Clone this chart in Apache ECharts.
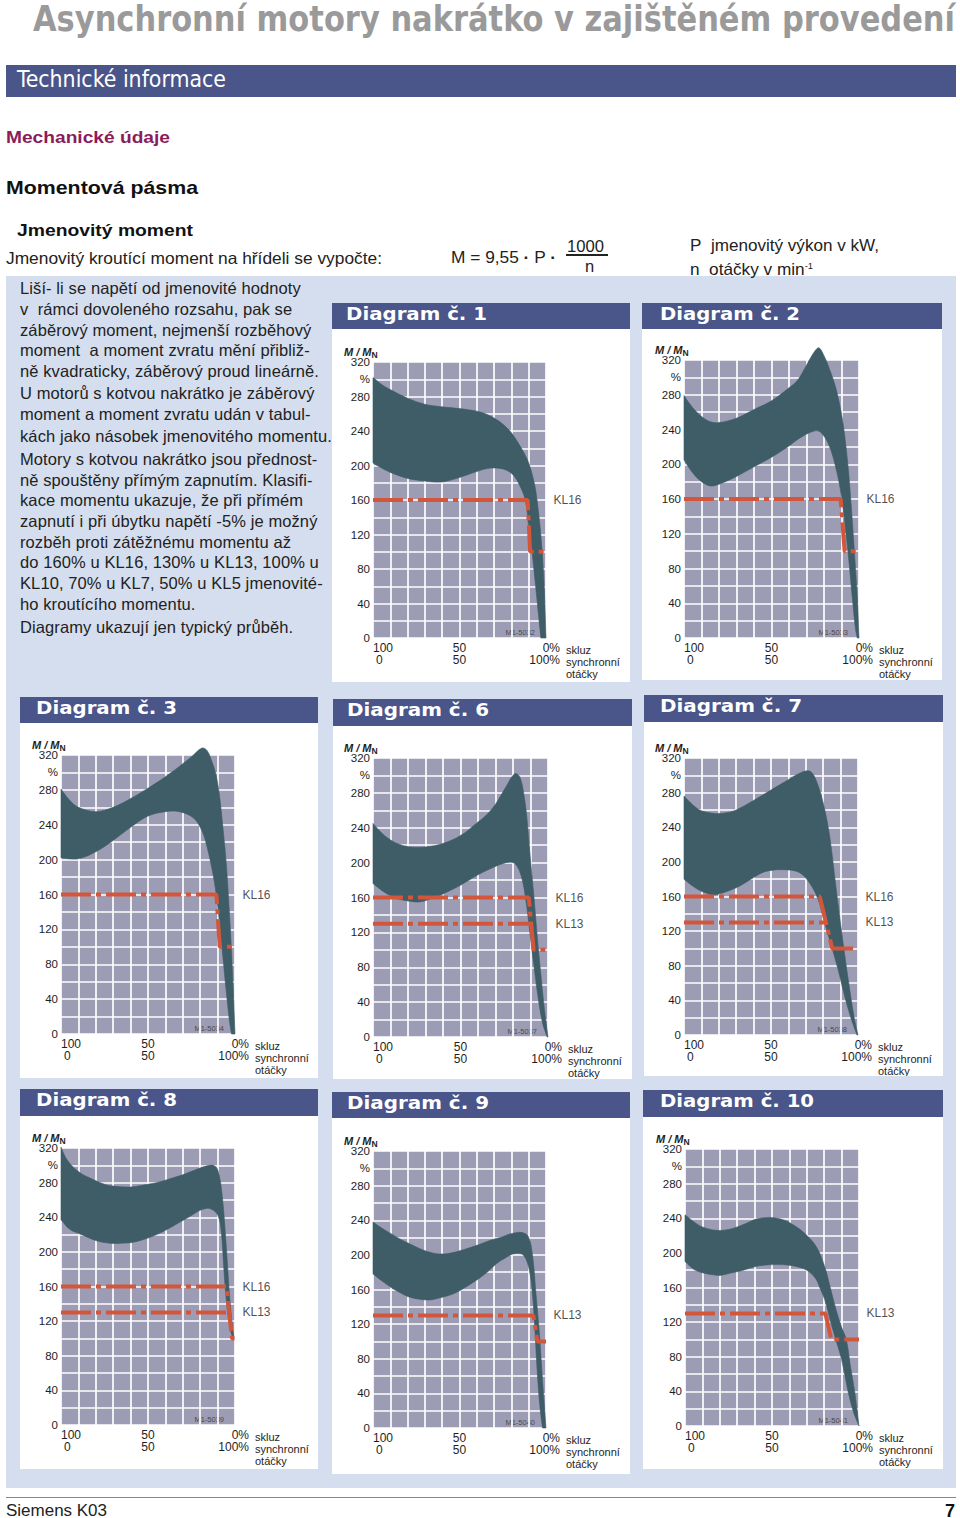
<!DOCTYPE html>
<html><head><meta charset="utf-8">
<script src="https://cdn.jsdelivr.net/npm/echarts@6/dist/echarts.min.js"></script>
<style>
html,body{margin:0;padding:0;}
body{width:960px;height:1518px;position:relative;background:#fff;overflow:hidden;font-family:"Liberation Sans",Arial,sans-serif;color:#1f1f1f;}
.abs{position:absolute;white-space:nowrap;transform-origin:0 50%;}
.p{font-size:16.5px;line-height:16.5px;left:20px;color:#222;white-space:pre;letter-spacing:0.1px;}
</style></head><body>
<div class="abs" style="left:6px;top:276px;width:950px;height:1212px;background:#d4deee"></div>
<div class="abs" data-w="922" style="left:33px;top:1px;font:bold 36px/36px 'Liberation Sans Narrow','DejaVu Sans Condensed',sans-serif;color:#9a9a9a">Asynchronní motory nakrátko v zajištěném provedení</div>
<div class="abs" style="left:6px;top:65px;width:950px;height:32px;background:#4a5589"></div>
<div class="abs" data-w="209" style="left:17px;top:68px;font:23px/23px 'Liberation Sans Narrow','DejaVu Sans Condensed',sans-serif;color:#fff">Technické informace</div>
<div class="abs" data-w="164" style="left:6px;top:129px;font:bold 17px/17px 'Liberation Sans',sans-serif;color:#8b1c5b">Mechanické údaje</div>
<div class="abs" data-w="192" style="left:6px;top:178px;font:bold 19px/19px 'Liberation Sans',sans-serif;color:#111">Momentová pásma</div>
<div class="abs" data-w="176" style="left:17px;top:222px;font:bold 17px/17px 'Liberation Sans',sans-serif;color:#111">Jmenovitý moment</div>
<div class="abs" data-w="376" style="left:6px;top:250px;font:16.5px/16.5px 'Liberation Sans',sans-serif;color:#222">Jmenovitý kroutící moment na hřídeli se vypočte:</div>
<div class="abs" data-w="105" style="left:451px;top:249px;font:16.5px/16.5px 'Liberation Sans',sans-serif;color:#222">M = 9,55 <b>·</b> P <b>·</b></div>
<div class="abs" data-w="37" style="left:567px;top:238px;font:16.5px/16.5px 'Liberation Sans',sans-serif;color:#222">1000</div>
<div class="abs" style="left:566px;top:254px;width:42px;height:1.5px;background:#222"></div>
<div class="abs" style="left:585px;top:258px;font:16.5px/16.5px 'Liberation Sans',sans-serif;color:#222">n</div>
<div class="abs" data-w="189" style="left:690px;top:237px;font:16.5px/16.5px 'Liberation Sans',sans-serif;color:#222">P&nbsp; jmenovitý výkon v kW,</div>
<div class="abs" data-w="123" style="left:690px;top:258px;font:16.5px/16.5px 'Liberation Sans',sans-serif;color:#222">n&nbsp; otáčky v min<sup style="font-size:9px;vertical-align:6px">-1</sup></div>
<div class="abs" style="left:6px;top:1497px;width:950px;height:1px;background:#888"></div>
<div class="abs" data-w="101" style="left:6px;top:1503px;font:16px/16px 'Liberation Sans',sans-serif;color:#222">Siemens K03</div>
<div class="abs" style="left:945px;top:1502px;font:bold 18px/18px 'Liberation Sans',sans-serif;color:#111">7</div>
<script>
// ---------- text / tick labels ----------
const paragraphLines = [
  'Liší- li se napětí od jmenovité hodnoty',
  'v  rámci dovoleného rozsahu, pak se',
  'záběrový moment, nejmenší rozběhový',
  'moment  a moment zvratu mění přibliž-',
  'ně kvadraticky, záběrový proud lineárně.',
  'U motorů s kotvou nakrátko je záběrový',
  'moment a moment zvratu udán v tabul-',
  'kách jako násobek jmenovitého momentu.',
  'Motory s kotvou nakrátko jsou přednost-',
  'ně spouštěny přímým zapnutím. Klasifi-',
  'kace momentu ukazuje, že při přímém',
  'zapnutí i při úbytku napětí -5% je možný',
  'rozběh proti zátěžnému momentu až',
  'do 160% u KL16, 130% u KL13, 100% u',
  'KL10, 70% u KL7, 50% u KL5 jmenovité-',
  'ho kroutícího momentu.',
  'Diagramy ukazují jen typický průběh.'
];
const xTickValues = [0, 50, 100];
const xSlipLabels = ['100', '50', '0%'];
const xSyncLabels = ['0', '50', '100%'];
const xAxisNameLines = ['skluz', 'synchronní', 'otáčky'];
const yLabelValues = [0, 40, 80, 120, 160, 200, 240, 280, 320];
const yUnitValue = 300;
const yUnitLabel = '%';

// ---------- data: [speed % of synchronous, M/MN %] ----------
const d1Upper = [[0,302],[5,294],[10,288],[20,278],[30,271],[40,268],[50,266],[60,263],[65,260],[70,255],[75,248],[80,238],[84,226],[88,212],[90,203],[92,190],[94,172],[96,140],[97,120],[98,95],[99,58],[100,0]];
const d1Lower = [[0,203],[5,197],[10,192],[20,185],[30,182],[40,181],[50,186],[60,193],[68,197],[75,196],[80,191],[84,180],[88,160],[90,128],[92,98],[94,60],[96,20],[97,0]];
const d1KL16 = [[0,160],[89.4,160],[90.8,100],[100,100]];

const d2Upper = [[0,279],[5,265],[10,255],[15,249],[20,248],[30,253],[40,263],[50,273],[60,288],[65,297],[70,314],[74,328],[77,334],[80,325],[84,305],[87,286],[90,258],[92,230],[94,192],[96,140],[98,80],[99,48],[100,0]];
const d2Lower = [[0,205],[5,190],[10,180],[15,175],[20,177],[30,186],[40,197],[50,208],[60,221],[66,230],[74,238],[78,237],[83,221],[87,194],[90,163],[92,130],[94,93],[96,50],[98,10],[99,0]];
const d2KL16 = [[0,160],[89.5,160],[91.8,100],[100,100]];

const d3Upper = [[0,281],[5,268],[10,260],[20,255],[30,260],[40,270],[50,282],[60,295],[70,310],[75,318],[81,328],[84,325],[87,311],[89,298],[91,275],[93,238],[95,195],[97,132],[98,95],[99,50],[100,0]];
const d3Lower = [[0,202],[10,201],[20,209],[30,222],[40,237],[50,250],[60,255],[68,255],[76,248],[81,233],[84,214],[87,187],[89,163],[91,130],[93,89],[95,48],[97,12],[98,0]];
const d3KL16 = [[0,160],[89.3,160],[91.2,100],[100,100]];

const d6Upper = [[0,245],[5,234],[10,226],[15,221],[21,218],[30,218],[40,222],[50,231],[59,245],[65,255],[70,267],[76,287],[81,302],[84,298],[86.7,272],[88,250],[89.5,214],[92,160],[94,112],[96,70],[98,31],[100,0]];
const d6Lower = [[0,176],[5,168],[10,162],[15,158],[20,156],[27,155],[35,160],[40,164],[50,174],[60,186],[67,193],[76,200],[81,199],[84.8,184],[87.6,153],[89.5,122],[91.8,84],[94.3,46],[97,15],[99.5,0]];
const d6KL16 = [[0,160],[89,160],[91.8,100],[100,100]];
const d6KL13 = [[0,130],[90.4,130]];

const d7Upper = [[0,276],[5,266],[10,259],[18,256],[25,257],[30,260],[40,271],[50,283],[55,289],[60,295],[65,301],[70,305],[73,304],[76,294],[80,268],[83.7,230],[87.5,168],[91.4,107],[95.2,53],[98,18],[100,0]];
const d7Lower = [[0,180],[5,172],[10,166],[17,162],[25,166],[32,172],[40,182],[47,189],[57,191],[66,188],[72,176],[77,157],[80.8,130],[84.7,103],[88.5,76],[92.3,45],[96.2,18],[99.4,0]];
const d7KL16 = [[0,160],[78,160],[85.2,100],[100,100]];
const d7KL13 = [[0,130],[81.6,130]];

const d8Upper = [[0,321],[3,308],[7,298],[12,290],[17,285],[25,278],[30,276],[40,275],[50,278],[57,281],[65,286],[70,289],[75,293],[81.6,298],[87.4,300],[90.2,294],[92.7,264],[95,206],[97,146],[99,106],[99.5,100]];
const d8Lower = [[0,237],[5,226],[13,219],[20,213],[28,210],[35,210],[41.5,211],[50,216],[55,220],[62,227],[68,234],[75,242],[80,248],[85.5,250],[90.2,242],[92.2,221],[93.5,183],[95,144],[97,113],[98.5,102],[99.5,100]];
const d8KL16 = [[0,160],[95,160],[98.3,100],[100,100]];
const d8KL13 = [[0,130],[96.6,130]];

const d9Upper = [[0,238],[5,231],[10,225],[15,219],[20,214],[29,205.5],[35,202],[41,201],[47,203],[54,207],[60,211],[68,217],[75,221],[79,224],[85.6,226],[89.8,221],[92.3,198],[94.2,155],[96.2,109],[98,55],[100,0]];
const d9Lower = [[0,178],[5,170],[10,163],[15,157],[20,152],[26,149],[33,148],[40,151],[46.5,155],[53,162],[60,171],[66,180],[71.5,190],[77,197],[82,201.6],[87,199.7],[90.4,182],[92.3,151.5],[93.7,109],[95,63],[96.5,24],[98,0]];
const d9KL13 = [[0,130],[92.7,130],[95,100],[100,100]];

const d10Upper = [[0,244],[5,236],[10,230],[18,226],[25,227],[30,230],[35,234],[41,239],[48.8,241],[55,239],[60,235],[68,224],[75.5,207],[80.3,184],[83.5,160],[87,133],[90,114],[92.7,100],[95,70],[97.5,40],[100,0]];
const d10Lower = [[0,190],[5,181],[10,177],[15,175],[20,174],[27,177],[33.5,180],[40,184],[46.8,186],[58.3,186],[67.9,182],[72,177],[75.5,169],[77.4,160],[80.3,146],[84,118],[86.6,100],[90,77],[93.7,40],[97,15],[100,0]];
const d10KL13 = [[0,130],[80.7,130],[84.1,100],[100,100]];

const diagrams = [
  {no:'1', code:'M1-5032', upper:d1Upper, lower:d1Lower, kl:[{name:'KL16', pts:d1KL16}]},
  {no:'2', code:'M1-5033', upper:d2Upper, lower:d2Lower, kl:[{name:'KL16', pts:d2KL16}]},
  {no:'3', code:'M1-5034', upper:d3Upper, lower:d3Lower, kl:[{name:'KL16', pts:d3KL16}]},
  {no:'6', code:'M1-5037', upper:d6Upper, lower:d6Lower, kl:[{name:'KL16', pts:d6KL16},{name:'KL13', pts:d6KL13}]},
  {no:'7', code:'M1-5038', upper:d7Upper, lower:d7Lower, kl:[{name:'KL16', pts:d7KL16},{name:'KL13', pts:d7KL13}]},
  {no:'8', code:'M1-5039', upper:d8Upper, lower:d8Lower, kl:[{name:'KL16', pts:d8KL16},{name:'KL13', pts:d8KL13}]},
  {no:'9', code:'M1-5040', upper:d9Upper, lower:d9Lower, kl:[{name:'KL13', pts:d9KL13}]},
  {no:'10', code:'M1-5041', upper:d10Upper, lower:d10Lower, kl:[{name:'KL13', pts:d10KL13}]}
];

// ---------- layout (page pixels) ----------
const layout = {
  '1':  {hx:332, hy:303,  w:298, hh:26, bh:353, pl:373, pt:362,  pw:173, ph:276, tx:14, tw:141},
  '2':  {hx:642, hy:303,  w:300, hh:26, bh:351, pl:684, pt:360,  pw:175, ph:278, tx:18, tw:140},
  '3':  {hx:20,  hy:697,  w:298, hh:26, bh:355, pl:61,  pt:755,  pw:174, ph:279, tx:16, tw:141},
  '6':  {hx:333, hy:699,  w:299, hh:27, bh:353, pl:373, pt:758,  pw:175, ph:279, tx:14, tw:142},
  '7':  {hx:644, hy:695,  w:299, hh:27, bh:354, pl:684, pt:758,  pw:174, ph:277, tx:16, tw:142},
  '8':  {hx:20,  hy:1089, w:298, hh:27, bh:353, pl:61,  pt:1148, pw:174, ph:277, tx:16, tw:141},
  '9':  {hx:332, hy:1092, w:298, hh:26, bh:356, pl:373, pt:1151, pw:173, ph:277, tx:15, tw:142},
  '10': {hx:643, hy:1090, w:300, hh:27, bh:352, pl:685, pt:1149, pw:174, ph:277, tx:17, tw:154}
};
const paraCenters = [288,309,330,350,371,393,414,436,459,480,500,521,542,562,583,604,627];

const BAND = '#3e5d67', RED = '#d4563a', PLOT_BG = '#9d9cb5', HDR = '#4a5589', TXT = '#1e1e1e';
const FF = "'Liberation Sans', Arial, sans-serif";

function el(html, style, attrs) {
  const d = document.createElement('div');
  d.className = 'abs';
  d.innerHTML = html;
  Object.assign(d.style, style);
  if (attrs) for (const k in attrs) d.setAttribute(k, attrs[k]);
  document.body.appendChild(d);
  return d;
}

paragraphLines.forEach((t, i) => {
  const d = el('', {top: (paraCenters[i] - 7.7) + 'px'});
  d.textContent = t;
  d.classList.add('p');
});

function buildOption(d, L) {
  const boxTop = L.hy + L.hh;
  const gl = L.pl - L.hx, gt = L.pt - boxTop;
  const series = [{
    type: 'custom', coordinateSystem: 'cartesian2d', clip: false, silent: true, z: 2,
    data: d.upper.concat(d.lower.slice().reverse()),
    encode: {x: 0, y: 1},
    renderItem: function (params, api) {
      if (params.dataIndex !== 0) return null;
      const up = d.upper.map(p => api.coord(p));
      const lo = d.lower.map(p => api.coord(p)).reverse();
      const pts = [up[0]].concat(up, [up[up.length - 1]], [lo[0]], lo, [lo[lo.length - 1]]);
      return {type: 'polygon', shape: {points: pts, smooth: 0.35},
        style: {fill: BAND, stroke: BAND, lineWidth: 0.6}};
    }
  }];
  d.kl.forEach(k => {
    series.push({type: 'line', data: k.pts, symbol: 'none', clip: false, silent: true, z: 4,
      lineStyle: {color: RED, width: 4, type: [30, 5, 5, 5], cap: 'butt'}});
    series.push({type: 'scatter', data: [[100, k.pts[0][1]]], symbolSize: 1, silent: true, z: 5,
      itemStyle: {color: 'rgba(0,0,0,0)'},
      label: {show: true, position: 'right', distance: 7, formatter: k.name, fontSize: 12,
        color: TXT, fontFamily: FF}});
  });
  return {
    animation: false,
    grid: {left: gl, top: gt, width: L.pw, height: L.ph, show: true, backgroundColor: PLOT_BG,
      borderWidth: 0, containLabel: false, outerBoundsMode: 'none'},
    title: {text: '{m|M / M}{n|N}', left: gl - 29, top: gt - 17, padding: 0,
      textStyle: {rich: {
        m: {fontStyle: 'italic', fontSize: 11, color: TXT, fontFamily: FF},
        n: {fontSize: 8.5, color: TXT, fontFamily: FF, padding: [5, 0, 0, 0]}}}},
    xAxis: {
      type: 'value', min: 0, max: 100, interval: 10,
      axisLine: {show: false}, axisTick: {show: false},
      splitLine: {show: true, lineStyle: {color: '#ffffff', width: 1.7}},
      axisLabel: {
        margin: 4, fontSize: 12, lineHeight: 12, color: TXT, fontFamily: FF,
        showMinLabel: true, showMaxLabel: true, hideOverlap: false,
        alignMinLabel: 'left', alignMaxLabel: 'center',
        formatter: function (v) {
          const i = xTickValues.indexOf(v);
          if (i < 0) return '';
          if (i === 0) return '{a|' + xSlipLabels[i] + '}\n{b|' + xSyncLabels[i] + '}';
          if (i === xTickValues.length - 1) return '{r|' + xSlipLabels[i] + '}\n{r|' + xSyncLabels[i] + '}';
          return xSlipLabels[i] + '\n' + xSyncLabels[i];
        },
        rich: {
          a: {fontSize: 12, lineHeight: 12, color: TXT, fontFamily: FF},
          b: {fontSize: 12, lineHeight: 12, color: TXT, fontFamily: FF, padding: [0, 0, 0, 3]},
          r: {fontSize: 12, lineHeight: 12, color: TXT, fontFamily: FF, width: 28, align: 'right'}
        }
      },
      name: xAxisNameLines.join('\n'), nameLocation: 'end', nameGap: 20,
      nameTextStyle: {align: 'left', verticalAlign: 'top', fontSize: 11, lineHeight: 12,
        color: TXT, fontFamily: FF, padding: [6, 0, 0, 0]}
    },
    yAxis: {
      type: 'value', min: 0, max: 320, interval: 20,
      axisLine: {show: false}, axisTick: {show: false},
      splitLine: {show: true, lineStyle: {color: '#ffffff', width: 1.7}},
      axisLabel: {margin: 3, fontSize: 11.5, color: TXT, fontFamily: FF,
        formatter: v => yLabelValues.indexOf(v) >= 0 ? String(v) : (v === yUnitValue ? yUnitLabel : '')}
    },
    graphic: [{type: 'text', right: L.w - gl - L.pw + 11, top: gt + L.ph - 10, silent: true,
      style: {text: d.code, fontSize: 7.5, fill: '#4a4a4a', fontFamily: FF}}],
    series: series
  };
}

diagrams.forEach(d => {
  const L = layout[d.no];
  el('', {left: L.hx + 'px', top: L.hy + 'px', width: L.w + 'px', height: L.hh + 'px', background: HDR});
  el('Diagram č. ' + d.no, {left: (L.hx + L.tx) + 'px', top: (L.hy + 2.3) + 'px',
    font: "bold 18px/18px 'DejaVu Sans', sans-serif", color: '#fff'}, {'data-w': L.tw});
  const box = el('', {left: L.hx + 'px', top: (L.hy + L.hh) + 'px', width: L.w + 'px',
    height: L.bh + 'px', background: '#fff'});
  const chart = echarts.init(box, null, {renderer: 'svg', width: L.w, height: L.bh});
  chart.setOption(buildOption(d, L));
});

document.querySelectorAll('[data-w]').forEach(e => {
  const w = e.getBoundingClientRect().width;
  if (w > 0) e.style.transform = 'scaleX(' + (+e.getAttribute('data-w') / w) + ')';
});
</script>
</body></html>
